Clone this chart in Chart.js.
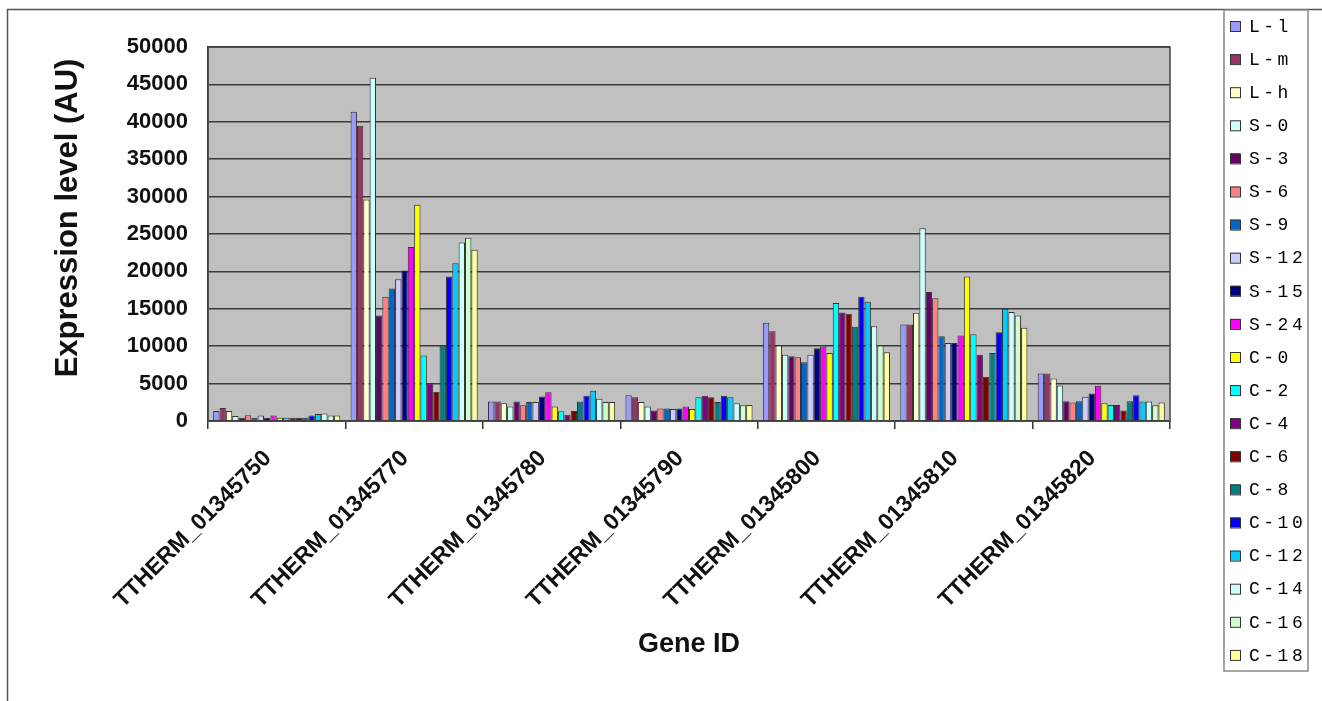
<!DOCTYPE html>
<html>
<head>
<meta charset="utf-8">
<script src="https://cdn.jsdelivr.net/npm/chart.js@4/dist/chart.umd.min.js"></script>
<style>
  body { margin: 0; background: #fff; }
  canvas { display: block; }
</style>
</head>
<body>
<canvas id="geneChart" width="1322" height="701"></canvas>
<script>
// Gene IDs on the x axis
const genes = ['TTHERM_01345750', 'TTHERM_01345770', 'TTHERM_01345780', 'TTHERM_01345790',
               'TTHERM_01345800', 'TTHERM_01345810', 'TTHERM_01345820'];

// Sample conditions (series)
const conditions = ['L-l', 'L-m', 'L-h', 'S-0', 'S-3', 'S-6', 'S-9', 'S-12', 'S-15', 'S-24',
                    'C-0', 'C-2', 'C-4', 'C-6', 'C-8', 'C-10', 'C-12', 'C-14', 'C-16', 'C-18'];

// Excel-style fill colours, one per condition
const colors = ['#9999FF', '#993366', '#FFFFCC', '#CCFFFF', '#660066', '#FF8080', '#0066CC', '#CCCCFF',
                '#000080', '#FF00FF', '#FFFF00', '#00FFFF', '#800080', '#800000', '#008080', '#0000FF',
                '#00CCFF', '#CCFFFF', '#CCFFCC', '#FFFF99'];

// Expression level per gene, in condition order
const g750 = [1340, 1750, 1340, 670, 450, 760, 450, 720, 450, 720, 450, 450, 450, 450, 450, 720, 940, 990, 720, 720];
const g770 = [41350, 39470, 29600, 45900, 14110, 16620, 17700, 18950, 20120, 23250, 28900, 8740, 5060, 3900, 10080, 19310, 21100, 23880, 24500, 22900];
const g780 = [2600, 2600, 2370, 1930, 2600, 2100, 2550, 2550, 3270, 3850, 1930, 1300, 850, 1340, 2600, 3360, 4030, 2960, 2550, 2550];
const g790 = [3450, 3180, 2550, 1930, 1390, 1660, 1660, 1600, 1660, 1930, 1620, 3180, 3360, 3180, 2550, 3360, 3180, 2370, 2100, 2150];
const g800 = [13130, 12010, 10080, 8870, 8650, 8510, 7840, 8870, 9720, 9950, 9090, 15770, 14520, 14340, 12590, 16620, 15950, 12680, 10080, 9180];
const g810 = [12900, 12900, 14470, 25760, 17250, 16400, 11330, 10440, 10440, 11420, 19310, 11600, 8870, 5910, 9090, 11870, 15010, 14560, 14110, 12450];
const g820 = [6360, 6360, 5690, 4750, 2640, 2460, 2640, 3230, 3670, 4700, 2370, 2150, 2150, 1390, 2640, 3450, 2600, 2600, 2100, 2460];

// Y axis range
const yMax = 50000;
const yStep = 5000;

const byGene = [g750, g770, g780, g790, g800, g810, g820];

const datasets = conditions.map((name, i) => ({
    label: name,
    data: byGene.map(g => g[i]),
    backgroundColor: colors[i],
    borderColor: '#333',
    borderWidth: 1,
    barPercentage: 1.0,
    categoryPercentage: 0.925
}));

// Grey plot area, frame and y title
const plotBackground = {
    id: 'plotBackground',
    beforeDraw(chart) {
        const { ctx, chartArea: a } = chart;
        ctx.save();
        ctx.fillStyle = '#C0C0C0';
        ctx.fillRect(a.left, a.top, a.right - a.left, a.bottom - a.top);
        ctx.restore();
    },
    afterDraw(chart) {
        const { ctx, chartArea: a } = chart;
        ctx.save();
        ctx.strokeStyle = '#444';
        ctx.lineWidth = 1.5;
        ctx.strokeRect(a.left, a.top, a.right - a.left, a.bottom - a.top);
        // outer picture frame (left + top edges)
        ctx.strokeStyle = '#555';
        ctx.beginPath();
        ctx.moveTo(7.5, 701);
        ctx.lineTo(7.5, 9.5);
        ctx.lineTo(1322, 9.5);
        ctx.stroke();
        // y axis title, sits a bit above the plot centre like the original
        ctx.translate(68, 218);
        ctx.rotate(-Math.PI / 2);
        ctx.font = 'bold 31px "Liberation Sans"';
        ctx.fillStyle = '#111';
        ctx.textAlign = 'center';
        ctx.textBaseline = 'middle';
        ctx.fillText('Expression level (AU)', 0, 0);
        ctx.restore();
    }
};

// Boxed legend on the right, built from the datasets
const boxLegend = {
    id: 'boxLegend',
    afterDraw(chart) {
        const { ctx } = chart;
        const left = 1224, top = 10, right = 1308, bottom = 671;
        const firstY = 26, step = 33.1;
        ctx.save();
        ctx.fillStyle = '#fff';
        ctx.fillRect(left, top, right - left, bottom - top);
        ctx.strokeStyle = '#888';
        ctx.lineWidth = 1.5;
        ctx.strokeRect(left, top, right - left, bottom - top);
        ctx.font = '18px "Liberation Mono"';
        ctx.letterSpacing = '3.5px';
        ctx.textBaseline = 'middle';
        chart.data.datasets.forEach((ds, i) => {
            const y = firstY + i * step;
            ctx.fillStyle = ds.backgroundColor;
            ctx.fillRect(1230, y - 5, 10, 10);
            ctx.strokeStyle = '#333';
            ctx.lineWidth = 1;
            ctx.strokeRect(1230.5, y - 4.5, 10, 10);
            ctx.fillStyle = '#000';
            ctx.fillText(ds.label, 1249, y + 1);
        });
        ctx.restore();
    }
};

const chart = new Chart(document.getElementById('geneChart'), {
    type: 'bar',
    data: { labels: genes, datasets: datasets },
    options: {
        responsive: false,
        animation: false,
        layout: { padding: { top: 47, right: 152, bottom: 0, left: 0 } },
        plugins: {
            legend: { display: false },
            tooltip: { enabled: false }
        },
        scales: {
            x: {
                afterFit(scale) { scale.height = 280; },
                grid: {
                    offset: true,
                    drawOnChartArea: false,
                    color: '#333',
                    lineWidth: 1.5,
                    tickLength: 8
                },
                border: { color: '#333', width: 1.5 },
                ticks: {
                    color: '#111',
                    maxRotation: 45,
                    minRotation: 45,
                    padding: 16,
                    labelOffset: -9,
                    font: { family: 'Liberation Sans', size: 23, weight: 'bold' }
                },
                title: {
                    display: true,
                    text: 'Gene ID',
                    color: '#111',
                    padding: { top: 0, bottom: 40 },
                    font: { family: 'Liberation Sans', size: 27, weight: 'bold' }
                }
            },
            y: {
                min: 0,
                max: yMax,
                afterFit(scale) { scale.width = 208; },
                grid: {
                    color: '#3a3a3a',
                    lineWidth: 1.5,
                    drawTicks: false
                },
                border: { color: '#333', width: 1.5 },
                ticks: {
                    stepSize: yStep,
                    color: '#111',
                    padding: 20,
                    callback: (value) => String(value),
                    font: { family: 'Liberation Sans', size: 22, weight: 'bold' }
                }
            }
        }
    },
    plugins: [plotBackground, boxLegend]
});
</script>
</body>
</html>
